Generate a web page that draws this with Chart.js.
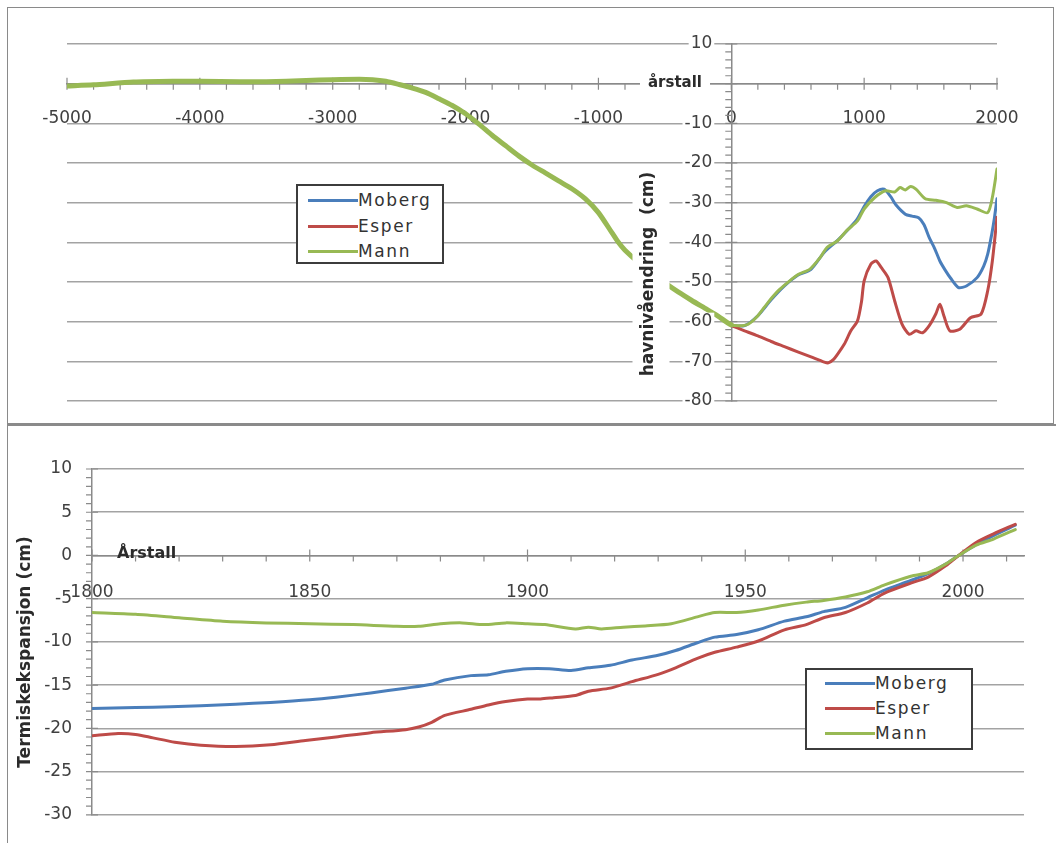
<!DOCTYPE html>
<html>
<head>
<meta charset="utf-8">
<script src="https://cdn.jsdelivr.net/npm/chart.js@4.4.1/dist/chart.umd.min.js"></script>
<style>
  html, body { margin: 0; padding: 0; background: #fff; }
  body { position: relative; width: 1056px; height: 843px; overflow: hidden; font-family: "DejaVu Sans", sans-serif; }
  #topPanel { position: absolute; left: 7px; top: 7px; width: 1045px; height: 415px; border: 1px solid #8a8a8a; }
  #bottomPanel { position: absolute; left: 7px; top: 424px; width: 1049px; height: 419px; border-top: 2px solid #8a8a8a; border-left: 1px solid #8a8a8a; }
  canvas { position: absolute; left: 0; top: 0; }
  .legend { position: absolute; box-sizing: border-box; border: 2px solid #3c3c3c; background: #fff; }
  .legend .swatch { position: absolute; height: 3px; }
  .legend .name { position: absolute; font-size: 17px; letter-spacing: 1.6px; color: #333; line-height: 20px; }
</style>
</head>
<body>
<div id="topPanel"><canvas id="topChart" width="1045" height="415"></canvas></div>
<div id="bottomPanel"><canvas id="bottomChart" width="1049" height="419"></canvas></div>
<div id="topLegend" class="legend" style="left:296px; top:184px; width:148px; height:80px;"></div>
<div id="bottomLegend" class="legend" style="left:805px; top:668px; width:168px; height:82px;"></div>
<script>
// ---- top chart: havnivåendring, year -5000..2000 ----
const mannYears = [-5000, -4800, -4500, -4200, -4000, -3700, -3500, -3200, -3000, -2800,
  -2700, -2600, -2500, -2400, -2300, -2200, -2100, -2000, -1900, -1800,
  -1700, -1600, -1500, -1400, -1300, -1200, -1100, -1000, -900, -850,
  -800, -700, -600, -500, -400, -300, -200, -100, 0, 80,
  130, 200, 280, 360, 440, 510, 590, 670, 720, 800,
  870, 950, 1000, 1080, 1160, 1230, 1270, 1310, 1350, 1390,
  1460, 1540, 1620, 1700, 1770, 1850, 1930, 1965, 2000];
const mannLevel = [-0.6, -0.3, 0.4, 0.6, 0.6, 0.5, 0.5, 0.8, 1.0, 1.1,
  1.0, 0.6, -0.2, -1.1, -2.2, -3.8, -5.5, -7.6, -10.2, -13,
  -15.6, -18.2, -20.5, -22.5, -24.5, -26.5, -29, -32.5, -37.5, -40,
  -42, -45, -47.5, -50.2, -52.5, -54.6, -56.6, -58.6, -60.8, -61,
  -60.6, -58.5, -55, -52, -49.7, -48, -46.8, -43.8, -41.3, -39.6,
  -37, -34.6, -31.6, -28.7, -27, -27.3, -26.2, -26.8, -25.9, -26.6,
  -29, -29.4, -30, -31.2, -30.8, -31.6, -32.5, -28.7, -21.5];

const mobergYears = [0, 100, 200, 300, 400, 500, 600, 700, 800, 900,
  950, 1000, 1050, 1100, 1150, 1200, 1240, 1310, 1360, 1410,
  1450, 1490, 1530, 1570, 1610, 1650, 1710, 1770, 1850, 1900,
  1930, 1960, 1980, 2000];
const mobergLevel = [-61, -61, -58.5, -54.5, -51, -48.3, -46.8, -42.5, -39.5, -36,
  -34, -31, -28.5, -27, -26.6, -28.5, -30.6, -32.9, -33.4, -33.8,
  -35.5, -38.8, -41.5, -44.7, -47, -49, -51.4, -51, -48.9, -46,
  -43, -38, -34, -29];

const esperYears = [0, 100, 200, 300, 400, 500, 600, 700, 730, 770,
  800, 850, 900, 950, 980, 1000, 1050, 1090, 1130, 1180,
  1230, 1285, 1340, 1390, 1440, 1490, 1540, 1570, 1600, 1645,
  1720, 1800, 1880, 1930, 1965, 2000];
const esperLevel = [-61, -62.3, -63.6, -65, -66.3, -67.6, -68.9, -70.2, -70.4, -69.5,
  -68.2, -65.7, -62.3, -59.8, -55, -49.7, -45.5, -44.7, -46.4, -48.9,
  -54.8, -60.6, -63.2, -62.3, -62.8, -61, -58, -55.6, -58.5, -62.3,
  -61.9, -59, -58.1, -52.2, -44.7, -33.7];

// ---- bottom chart: termisk ekspansjon, 1800..2012 ----
const mannThYears = [1800, 1810, 1820, 1830, 1840, 1850, 1860, 1870, 1875, 1880,
  1885, 1890, 1895, 1900, 1904, 1911, 1914, 1917, 1922, 1927,
  1933, 1939, 1943, 1948, 1953, 1959, 1964, 1968, 1973, 1978,
  1982, 1988, 1992, 1996, 1999, 2003, 2007, 2012];
const mannTh = [-6.6, -6.8, -7.2, -7.6, -7.8, -7.9, -8.0, -8.2, -8.2, -7.9,
  -7.8, -8.0, -7.8, -7.9, -8.0, -8.5, -8.3, -8.5, -8.3, -8.15,
  -7.9, -7.1, -6.6, -6.6, -6.3, -5.75, -5.4, -5.2, -4.8, -4.2,
  -3.4, -2.4, -2.0, -1.0, 0, 1.2, 1.9, 3.0];

const mobergThYears = [1800, 1810, 1818, 1825, 1833, 1841, 1850, 1856, 1864, 1872,
  1878, 1881, 1887, 1891, 1895, 1900, 1905, 1910, 1914, 1919,
  1924, 1930, 1934, 1939, 1943, 1948, 1953, 1959, 1964, 1968,
  1973, 1978, 1982, 1988, 1992, 1996, 1999, 2003, 2007, 2012];
const mobergTh = [-17.7, -17.6, -17.5, -17.4, -17.2, -17.0, -16.7, -16.4, -15.9, -15.35,
  -14.9, -14.4, -13.9, -13.8, -13.4, -13.1, -13.1, -13.3, -13.0, -12.7,
  -12.1, -11.55, -11.0, -10.1, -9.45, -9.15, -8.6, -7.6, -7.1, -6.5,
  -6.0, -4.9, -4.0, -2.9, -2.1, -1.0, 0, 1.25, 2.3, 3.5];

const esperThYears = [1800, 1806, 1810, 1814, 1819, 1825, 1833, 1841, 1849, 1856,
  1864, 1872, 1875, 1878, 1881, 1887, 1891, 1895, 1900, 1903,
  1906, 1911, 1914, 1919, 1924, 1930, 1934, 1939, 1943, 1948,
  1953, 1959, 1964, 1968, 1973, 1978, 1982, 1988, 1992, 1996,
  1999, 2003, 2007, 2012];
const esperTh = [-20.85, -20.6, -20.7, -21.1, -21.6, -21.95, -22.1, -21.9, -21.4, -21.0,
  -20.5, -20.15, -19.85, -19.3, -18.5, -17.8, -17.3, -16.9, -16.6, -16.6,
  -16.45, -16.2, -15.7, -15.35, -14.6, -13.75, -13.0, -11.9, -11.2, -10.6,
  -9.9, -8.6, -8.0, -7.2, -6.6, -5.5, -4.35, -3.2, -2.5, -1.2,
  0, 1.5, 2.5, 3.6];

const seriesNames = ['Moberg', 'Esper', 'Mann'];
const seriesColors = { Moberg: '#4a7ebb', Esper: '#be4b48', Mann: '#98b954' };

const AXIS = '#8a8a8a';
const GRID = '#a3a3a3';
const LABEL = '#404040';
const FONT = '"DejaVu Sans", sans-serif';

Chart.defaults.font.family = FONT;

function pairs(xs, ys) {
  return xs.map((x, i) => ({ x: x, y: ys[i] }));
}

// small tick marks (major cross the axis, minor sit on one side)
function drawAxisTicks(chart, spec) {
  const ctx = chart.ctx;
  const sc = chart.scales[spec.axis];
  const other = chart.scales[spec.axis === 'x' ? 'y' : 'x'];
  const base = spec.at === 'left' ? chart.chartArea.left : other.getPixelForValue(spec.at);
  const n = Math.floor((sc.max - sc.min) / spec.minor + 1e-6);
  ctx.save();
  ctx.strokeStyle = AXIS;
  ctx.lineWidth = 1.2;
  ctx.beginPath();
  for (let i = 0; i <= n; i++) {
    const v = sc.min + i * spec.minor;
    const p = sc.getPixelForValue(v);
    const major = Math.abs(v % spec.major) < 1e-6;
    if (spec.axis === 'x') {
      ctx.moveTo(p, base + (major ? -6 : 0));
      ctx.lineTo(p, base + 6);
    } else {
      ctx.moveTo(base - 6, p);
      ctx.lineTo(base + (major ? 6 : 0), p);
    }
  }
  ctx.stroke();
  ctx.restore();
}

function backdropText(ctx, text, x, y, opts) {
  ctx.save();
  ctx.font = opts.font;
  ctx.translate(x, y);
  if (opts.rotate) ctx.rotate(opts.rotate);
  ctx.textAlign = opts.align || 'center';
  ctx.textBaseline = opts.baseline || 'middle';
  const w = ctx.measureText(text).width;
  if (opts.box) {
    const b = opts.box;
    let left = -w / 2;
    if (ctx.textAlign === 'right') left = -w;
    if (ctx.textAlign === 'left') left = 0;
    ctx.fillStyle = '#fff';
    ctx.fillRect(left - b.padX, -b.h / 2 + (b.dy || 0), w + 2 * b.padX, b.h);
  }
  ctx.fillStyle = opts.color || '#333';
  ctx.fillText(text, 0, 0);
  ctx.restore();
}

const axisDecor = {
  id: 'axisDecor',
  beforeDatasetsDraw(chart, args, opts) {
    (opts.ticks || []).forEach((t) => drawAxisTicks(chart, t));
  },
  afterDatasetsDraw(chart, args, opts) {
    if (opts.draw) opts.draw(chart);
  }
};

// ---------------- top chart ----------------
const topChart = new Chart(document.getElementById('topChart'), {
  type: 'line',
  data: {
    datasets: [
      {
        label: 'Mann',
        data: pairs(mannYears, mannLevel),
        borderColor: seriesColors.Mann,
        borderWidth: 3,
        segment: { borderWidth: (c) => (c.p1.parsed.x <= 0 ? 5 : 3) }
      },
      { label: 'Esper', data: pairs(esperYears, esperLevel), borderColor: seriesColors.Esper, borderWidth: 3 },
      { label: 'Moberg', data: pairs(mobergYears, mobergLevel), borderColor: seriesColors.Moberg, borderWidth: 3 }
    ]
  },
  options: {
    responsive: false,
    animation: false,
    elements: { point: { radius: 0 }, line: { tension: 0.25, borderJoinStyle: 'round', borderCapStyle: 'round' } },
    layout: { padding: { left: 59, right: 56, top: 36, bottom: 22 } },
    plugins: {
      legend: { display: false },
      tooltip: { enabled: false },
      axisDecor: {
        ticks: [
          { axis: 'x', at: 0, major: 1000, minor: 200 },
          { axis: 'y', at: 0, major: 10, minor: 2 }
        ],
        draw(chart) {
          const ctx = chart.ctx;
          const ys = chart.scales.y;
          const axisX = chart.scales.x.getPixelForValue(0);
          ys.ticks.forEach((t) => {
            if (t.value === 0) return;
            backdropText(ctx, String(t.value), axisX - 19, ys.getPixelForValue(t.value), {
              font: '17px ' + FONT, align: 'right', color: LABEL, box: { padX: 2, h: 18 }
            });
          });
          // y axis title
          backdropText(ctx, 'havnivåendring  (cm)', 641, 266, {
            font: 'bold 17px ' + FONT, rotate: -Math.PI / 2, color: '#2b2b2b', box: { padX: 4, h: 37, dy: 2 }
          });
          // x axis title sitting on the axis line
          backdropText(ctx, 'årstall', 667, ys.getPixelForValue(0) - 1, {
            font: 'bold 15px ' + FONT, color: '#2b2b2b', box: { padX: 8, h: 20 }
          });
        }
      }
    },
    scales: {
      x: {
        type: 'linear',
        min: -5000,
        max: 2000,
        position: { y: 0 },
        grid: { display: false },
        border: { color: AXIS, width: 1.5 },
        ticks: { stepSize: 1000, padding: 17, color: LABEL, font: { size: 17 }, maxRotation: 0, autoSkip: false, callback: (v) => v }
      },
      y: {
        type: 'linear',
        min: -80,
        max: 10,
        position: { x: 0 },
        grid: { color: GRID, lineWidth: 1.5, drawTicks: false },
        border: { color: AXIS, width: 1.5 },
        ticks: { stepSize: 10, display: false }
      }
    }
  },
  plugins: [axisDecor]
});

// ---------------- bottom chart ----------------
const bottomChart = new Chart(document.getElementById('bottomChart'), {
  type: 'line',
  data: {
    datasets: [
      { label: 'Mann', data: pairs(mannThYears, mannTh), borderColor: seriesColors.Mann, borderWidth: 3 },
      { label: 'Esper', data: pairs(esperThYears, esperTh), borderColor: seriesColors.Esper, borderWidth: 3 },
      { label: 'Moberg', data: pairs(mobergThYears, mobergTh), borderColor: seriesColors.Moberg, borderWidth: 3 }
    ]
  },
  options: {
    responsive: false,
    animation: false,
    elements: { point: { radius: 0 }, line: { tension: 0.25, borderJoinStyle: 'round', borderCapStyle: 'round' } },
    layout: { padding: { left: 34, right: 33, top: 43, bottom: 11 } },
    plugins: {
      legend: { display: false },
      tooltip: { enabled: false },
      axisDecor: {
        ticks: [
          { axis: 'x', at: 0, major: 50, minor: 10 },
          { axis: 'y', at: 'left', major: 5, minor: 1 }
        ],
        draw(chart) {
          const ctx = chart.ctx;
          backdropText(ctx, 'Årstall', 109, 132, {
            font: 'bold 16px ' + FONT, align: 'left', baseline: 'alphabetic', color: '#2b2b2b'
          });
          backdropText(ctx, 'Termiskekspansjon (cm)', 18, 226, {
            font: 'bold 17px ' + FONT, rotate: -Math.PI / 2, color: '#2b2b2b'
          });
        }
      }
    },
    scales: {
      x: {
        type: 'linear',
        min: 1800,
        max: 2014,
        position: { y: 0 },
        grid: { display: false },
        border: { color: AXIS, width: 1.5 },
        ticks: { stepSize: 50, includeBounds: false, padding: 19, color: LABEL, font: { size: 17 }, maxRotation: 0, autoSkip: false, callback: (v) => v }
      },
      y: {
        type: 'linear',
        min: -30,
        max: 10,
        position: 'left',
        grid: { color: GRID, lineWidth: 1.5, drawTicks: false },
        border: { color: AXIS, width: 1.5 },
        ticks: { stepSize: 5, padding: 20, color: LABEL, font: { size: 17 } },
        afterFit: (s) => { s.width = 50; }
      }
    }
  },
  plugins: [axisDecor]
});

// ---------------- legends (boxed, inside the plot) ----------------
function buildLegend(el, rows, lineLeft, lineWidth, textLeft) {
  seriesNames.forEach((name, i) => {
    const sw = document.createElement('div');
    sw.className = 'swatch';
    sw.style.left = lineLeft + 'px';
    sw.style.width = lineWidth + 'px';
    sw.style.top = (rows[i] - 1.5) + 'px';
    sw.style.background = seriesColors[name];
    el.appendChild(sw);
    const tx = document.createElement('div');
    tx.className = 'name';
    tx.textContent = name;
    tx.style.left = textLeft + 'px';
    tx.style.top = (rows[i] - 10) + 'px';
    el.appendChild(tx);
  });
}
buildLegend(document.getElementById('topLegend'), [14, 40, 65], 10, 50, 60);
buildLegend(document.getElementById('bottomLegend'), [13, 38, 63], 18, 50, 68);
</script>
</body>
</html>
